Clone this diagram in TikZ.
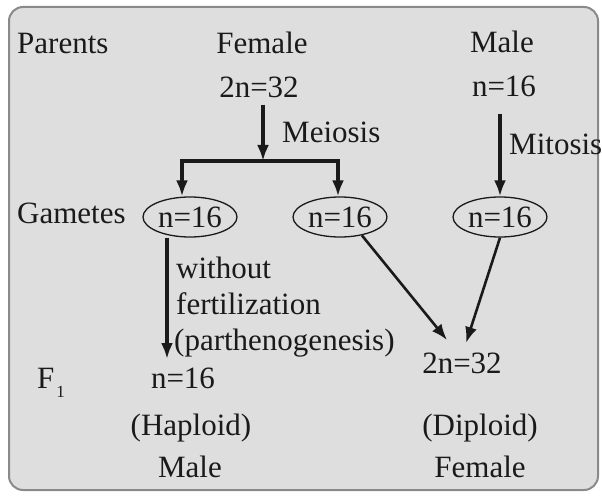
\documentclass[tikz,border=0pt]{standalone}
\usepackage{fontspec}
\setmainfont{Liberation Serif}
\newfontfamily\diafont{Liberation Serif}
\usetikzlibrary{arrows.meta, shapes.geometric}
\definecolor{panelgray}{HTML}{DEDEDE}
\definecolor{framegray}{HTML}{8A8A8A}
\definecolor{inkblack}{HTML}{1A1A1A}

\begin{document}
\begin{tikzpicture}[x=1pt, y=-1pt,
	txt/.style={inner sep=0pt, anchor=base, text=inkblack, font=\diafont\fontsize{31}{36}\selectfont},
	gamete/.style={ellipse, draw=inkblack, line width=1.3pt, inner sep=0pt, minimum width=94pt, minimum height=40pt, text=inkblack, font=\diafont\fontsize{31}{36}\selectfont},
	arr/.style={draw=inkblack, line width=3.4pt, line join=miter, -{Latex[length=16pt,width=12pt]}},
	thinarr/.style={draw=inkblack, line width=2.6pt, -{Latex[length=16pt,width=12pt]}}]
			\useasboundingbox (0,0) rectangle (602,497);
			\draw[fill=panelgray, draw=framegray, line width=2pt, rounded corners=14pt] (9,7) rectangle (598,490);
			
			\node[txt, anchor=base west] (parents) at (17,54) {Parents};
			\node[txt] (female) at (262,54) {Female};
			\node[txt] (male) at (502,53) {Male};
			\node[txt] (fem2n) at (259,98) {2n=32};
			\node[txt] (maln) at (504,97) {n=16};
			\node[txt, anchor=base west] (meiosis) at (282,143) {Meiosis};
			\node[txt, anchor=base west] (mitosis) at (509,155) {Mitosis};
			
			\node[txt, anchor=base west] (gametes) at (17,223) {Gametes};
			\node[gamete] (gl) at (190,217) {n=16};
			\node[gamete] (gm) at (340,217) {n=16};
			\node[gamete] (gr) at (500,217) {n=16};
			
			\node[txt, anchor=base west] (without) at (176,278) {without};
			\node[txt, anchor=base west] (fert) at (176,314) {fertilization};
			\node[txt, anchor=base west] (parth) at (174,350) {(parthenogenesis)};
			
			\node[txt, anchor=base west] (f1) at (37,388) {F\kern2pt\raisebox{-9pt}{\fontsize{17}{17}\selectfont 1}};
			\node[txt] (f1n) at (183,388) {n=16};
			\node[txt] (haploid) at (191,435) {(Haploid)};
			\node[txt] (hapmale) at (190,477) {Male};
			\node[txt] (dip2n) at (462,373) {2n=32};
			\node[txt] (diploid) at (480,435) {(Diploid)};
			\node[txt] (dipfemale) at (480,477) {Female};
			
			\coordinate (split) at (263,161);
			\coordinate (barL) at (182,161);
			\coordinate (barR) at (338,161);
			\coordinate (parthtip) at (167,359);
			\coordinate (dipL) at (447,340);
			\coordinate (dipR) at (466,343);
			
			\draw[arr] (split |- fem2n.south) ++(0,6) -- (split);
			\draw[arr] (split) -- (barL) -- (barL |- gl.north);
			\draw[arr] (split) -- (barR) -- (barR |- gm.north);
			\draw[arr] (gr.north |- maln.south) ++(0,16) -- (gr.north);
			\draw[arr] (parthtip |- gl.south) -- (parthtip);
			\draw[thinarr] (gm.-40) -- (dipL);
			\draw[thinarr] (gr.south) -- (dipR);
		\end{tikzpicture}
\end{document}
